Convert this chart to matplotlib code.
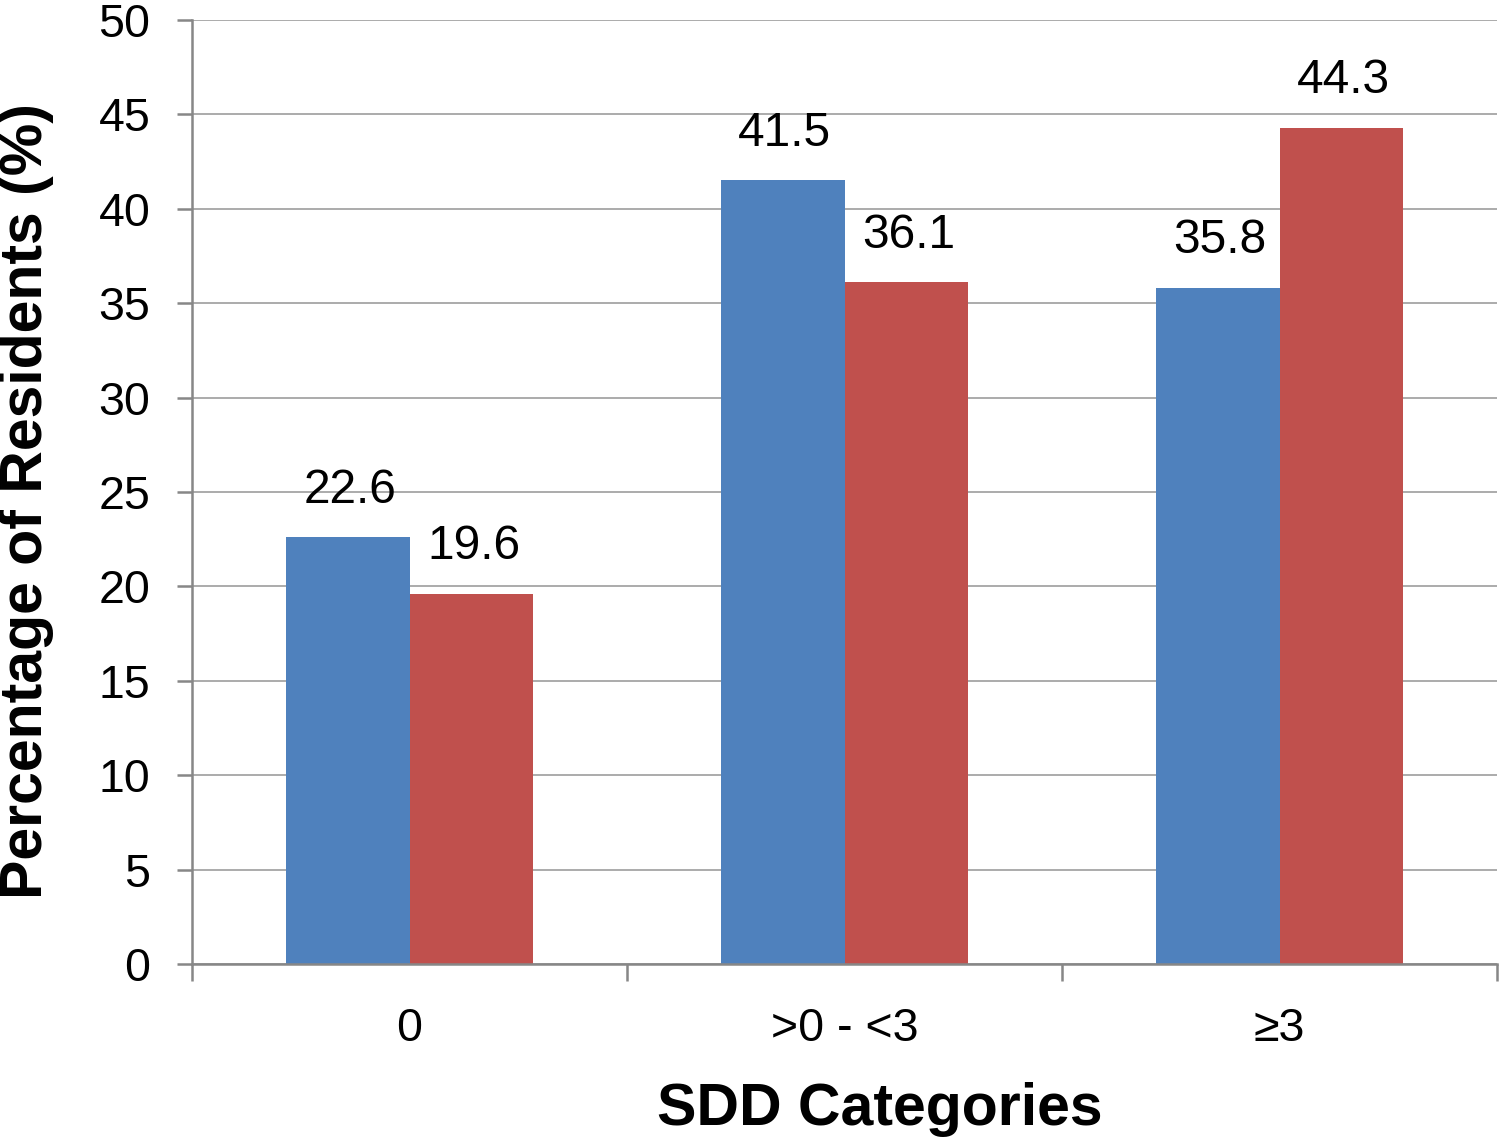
import matplotlib
matplotlib.use("Agg")
import matplotlib.pyplot as plt
import numpy as np

categories = ["0", ">0 - <3", "≥3"]
series_a = [22.6, 41.5, 35.8]
series_b = [19.6, 36.1, 44.3]
y_ticks = [0, 5, 10, 15, 20, 25, 30, 35, 40, 45, 50]

plt.rcParams['font.family'] = ['Liberation Sans', 'DejaVu Sans']

fig = plt.figure(figsize=(15, 11.41), dpi=100)
ax = fig.add_axes([192/1500, 1-964/1141, (1497-192)/1500, (964-20)/1141])

x = np.arange(len(categories))
w = 0.285
blue = '#4F81BD'
red = '#C0504D'
bars_a = ax.bar(x - w/2, series_a, w, color=blue, zorder=3)
bars_b = ax.bar(x + w/2, series_b, w, color=red, zorder=3)

for bars, vals in ((bars_a, series_a), (bars_b, series_b)):
    for b, v in zip(bars, vals):
        ax.annotate(f"{v:.1f}", (b.get_x() + b.get_width()/2 + 0.005, v),
                    xytext=(0, 25), textcoords='offset points',
                    ha='center', va='baseline', fontsize=34.5, color='black')

ax.set_xlim(-0.5, len(categories) - 0.5)
ax.set_ylim(0, 50)
ax.set_yticks(y_ticks)
ax.set_yticklabels([str(t) for t in y_ticks])

# major x ticks at category boundaries, labels at centers via minor ticks
ax.set_xticks(np.arange(len(categories) + 1) - 0.5)
ax.set_xticklabels([])
ax.set_xticks(x, minor=True)
ax.set_xticklabels(categories, minor=True)

spine_c = '#878787'
grid_c = '#ABABAB'
ax.yaxis.grid(True, color=grid_c, linewidth=1.4, zorder=0)
ax.set_axisbelow(True)
for s in ['top', 'right']:
    ax.spines[s].set_visible(False)
for s in ['left', 'bottom']:
    ax.spines[s].set_color(spine_c)
    ax.spines[s].set_linewidth(1.8)
    ax.spines[s].set_zorder(4)

ax.tick_params(axis='y', which='major', direction='out', length=11, width=1.8,
               color=spine_c, labelsize=33.5, pad=19)
ax.tick_params(axis='x', which='major', direction='out', length=12, width=1.8,
               color=spine_c)
ax.tick_params(axis='x', which='minor', length=0, labelsize=33.5, pad=31)

fig.text(27/1500, 1-501/1141, "Percentage of Residents (%)", rotation=90,
         ha='center', va='center', fontsize=42.5, fontweight='bold')
fig.text(880/1500, 1-1125/1141, "SDD Categories", ha='center', va='baseline',
         fontsize=42.5, fontweight='bold')

fig.savefig("out.png", dpi=100, facecolor='white')
